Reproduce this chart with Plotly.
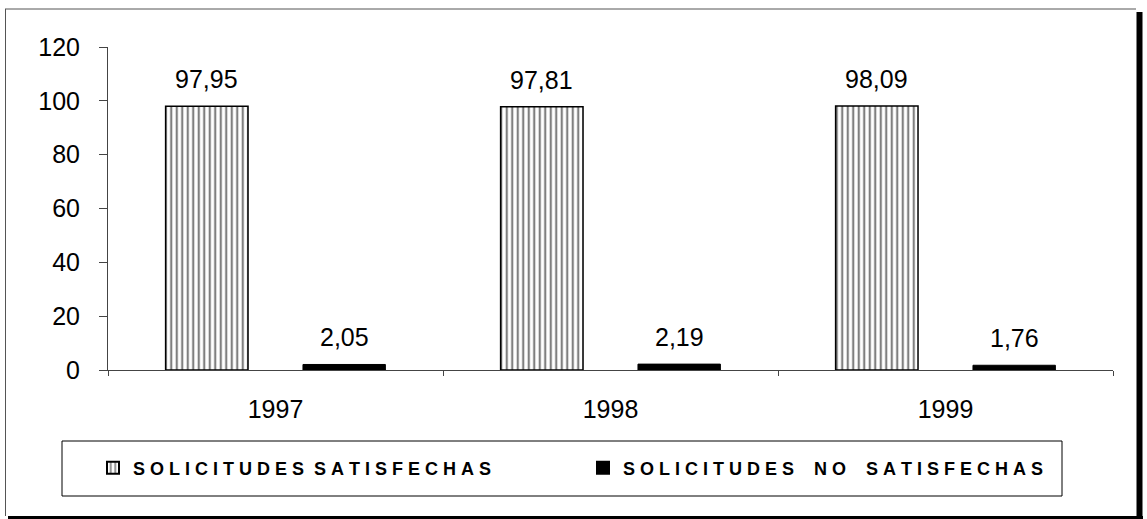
import plotly.graph_objects as go

years = ["1997", "1998", "1999"]
satisfechas = [97.95, 97.81, 98.09]
no_satisfechas = [2.05, 2.19, 1.76]
NB = "\u00a0"
name_sat = NB.join("SOLICITUDES") + NB * 2 + NB.join("SATISFECHAS")
name_no = NB.join("SOLICITUDES") + NB * 4 + NB.join("NO") + NB * 4 + NB.join("SATISFECHAS")

W, H = 1147, 519
L, R, T, B = 108, 34, 47, 149
pw, ph = W - L - R, H - T - B
BARGAP, GROUPGAP = 0.18, 0.40

def px(x):
    return (x - L) / pw

def py(y):
    return (H - B - y) / ph

font = "Liberation Sans, Arial, sans-serif"

fig = go.Figure()
fig.add_trace(go.Bar(
    x=years, y=satisfechas, name=name_sat,
    marker=dict(color="white", line=dict(color="black", width=1.5),
                pattern=dict(shape="|", fgcolor="black", bgcolor="white", size=5.5, solidity=0.4)),
))
fig.add_trace(go.Bar(
    x=years, y=no_satisfechas, name=name_no,
    marker=dict(color="black", line=dict(color="black", width=1)),
))

# value labels placed via data coordinates
slot = (1 - BARGAP) / 2
for series, off in ((satisfechas, -slot / 2), (no_satisfechas, slot / 2)):
    for i, v in enumerate(series):
        fig.add_annotation(x=i + off, y=v, xref="x", yref="y", text=f"{v:.2f}".replace(".", ","),
                           showarrow=False, yanchor="bottom", yshift=11,
                           font=dict(size=25, family=font, color="black"))

shapes = [
    dict(type="line", xref="paper", yref="paper", x0=px(5), x1=px(1136), y0=py(9), y1=py(9),
         line=dict(color="#555", width=1)),
    dict(type="line", xref="paper", yref="paper", x0=px(5.5), x1=px(5.5), y0=py(9), y1=py(516),
         line=dict(color="#555", width=1)),
    dict(type="line", xref="paper", yref="paper", x0=px(1139.5), x1=px(1139.5), y0=py(12), y1=py(519),
         line=dict(color="black", width=6)),
    dict(type="line", xref="paper", yref="paper", x0=px(8), x1=px(1143), y0=py(517.5), y1=py(517.5),
         line=dict(color="black", width=3)),
    dict(type="rect", xref="paper", yref="paper", x0=px(62), x1=px(1062), y0=py(441), y1=py(496),
         line=dict(color="black", width=1), fillcolor="rgba(0,0,0,0)"),
]

fig.update_layout(
    width=W, height=H,
    margin=dict(l=L, r=R, t=T, b=B, pad=0),
    paper_bgcolor="white", plot_bgcolor="white",
    barmode="group", bargap=BARGAP, bargroupgap=GROUPGAP,
    font=dict(family=font, color="black", size=25),
    showlegend=True,
    legend=dict(orientation="h", x=px(93), xanchor="left", y=py(468), yanchor="middle",
                borderwidth=0, bgcolor="rgba(0,0,0,0)",
                entrywidth=445, entrywidthmode="pixels",
                font=dict(size=18, family="Liberation Sans, Arial, sans-serif", color="black",
                          weight="bold"),
                itemsizing="constant"),
    shapes=shapes,
    xaxis=dict(showline=True, linecolor="#444", linewidth=1, ticks="outside", ticklen=5,
               tickcolor="#444", tickson="boundaries", showgrid=False,
               tickfont=dict(size=25), ticklabelstandoff=17),
    yaxis=dict(range=[0, 120], dtick=20, showline=True, linecolor="#444", linewidth=1,
               ticks="outside", ticklen=8, tickcolor="#444", showgrid=False, zeroline=False,
               tickfont=dict(size=25), ticklabelstandoff=14),
)

fig.write_html("out.html", config={"displayModeBar": False},
               post_script="document.body.style.margin='0';")
